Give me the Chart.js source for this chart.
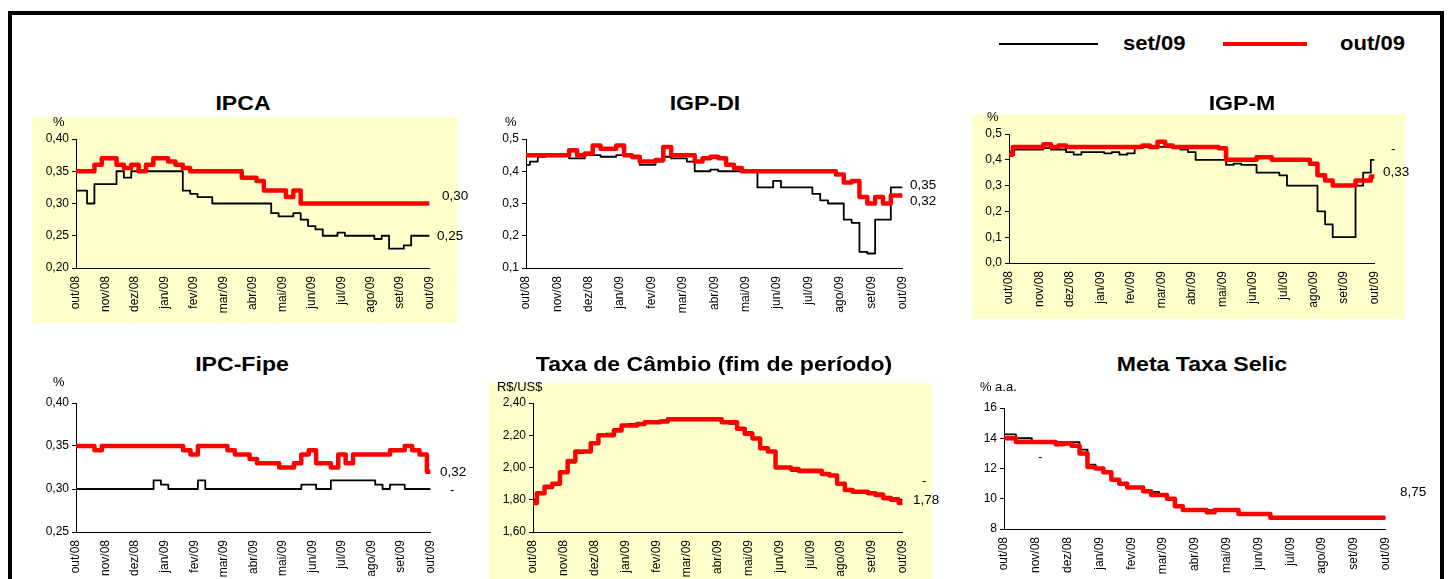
<!DOCTYPE html>
<html lang="pt-BR">
<head>
<meta charset="utf-8">
<title>Expectativas de mercado — set/09 x out/09</title>
<script src="https://cdn.jsdelivr.net/npm/chart.js@4.4.1/dist/chart.umd.min.js"></script>
<style>
  html, body { margin: 0; padding: 0; background: #fff; }
  body {
    width: 1448px; height: 579px; position: relative; overflow: hidden;
    font-family: "Liberation Sans", Arial, sans-serif; color: #000;
  }
  .frame {
    position: absolute; left: 8px; top: 11px; width: 1436px; height: 640px;
    border: 4px solid #000; box-sizing: border-box;
  }
  .bg { position: absolute; background: #ffffcc; }
  .title {
    position: absolute; font-weight: bold; font-size: 21px; line-height: 1;
    white-space: nowrap; transform: translate(-50%, -50%) scaleX(1.1);
  }
  .unit, .end {
    position: absolute; white-space: nowrap; line-height: 1;
    transform-origin: left center; transform: translateY(-50%) scaleX(1.08);
  }
  .unit { font-size: 12px; }
  .end { font-size: 12.5px; }
  .leg-line { position: absolute; }
  .leg-text {
    position: absolute; font-weight: bold; font-size: 21px; line-height: 1;
    transform-origin: left center; transform: translateY(-50%) scaleX(1.05);
  }
  canvas { position: absolute; }
</style>
</head>
<body>
<div class="frame"></div>

<!-- yellow panels behind IPCA, IGP-M and câmbio -->
<div class="bg" style="left:32px;top:117px;width:426px;height:206px"></div>
<div class="bg" style="left:972px;top:114px;width:433px;height:205px"></div>
<div class="bg" style="left:489px;top:383px;width:443px;height:200px"></div>

<!-- legend -->
<div class="leg-line" style="left:999px;top:43px;width:99px;height:2px;background:#000"></div>
<div class="leg-text" style="left:1123px;top:42px">set/09</div>
<div class="leg-line" style="left:1223px;top:42px;width:84px;height:4px;background:#ff0000"></div>
<div class="leg-text" style="left:1340px;top:42px">out/09</div>

<script>
/** Focus survey: expectations for Oct/09 as seen in Sep/09 vs Oct/09 */

const MONTHS = [
  "out/08", "nov/08", "dez/08", "jan/09", "fev/09", "mar/09", "abr/09",
  "mai/09", "jun/09", "jul/09", "ago/09", "set/09", "out/09",
];

// weekly readings, 4 per month, out/08 .. out/09
const ipcaSet = [
  0.32, 0.32, 0.30, 0.33, 0.33, 0.33, 0.35, 0.34, 0.35, 0.35,
  0.35, 0.35, 0.35, 0.35, 0.35, 0.32, 0.315, 0.31, 0.31, 0.30,
  0.30, 0.30, 0.30, 0.30, 0.30, 0.30, 0.30, 0.285, 0.28, 0.28,
  0.285, 0.275, 0.265, 0.26, 0.25, 0.25, 0.255, 0.25, 0.25, 0.25,
  0.25, 0.245, 0.25, 0.23, 0.23, 0.235, 0.25, 0.25, 0.25,
];
const ipcaOut = [
  0.35, 0.35, 0.35, 0.36, 0.37, 0.37, 0.36, 0.355, 0.36, 0.35,
  0.36, 0.37, 0.37, 0.365, 0.36, 0.355, 0.35, 0.35, 0.35, 0.35,
  0.35, 0.35, 0.35, 0.34, 0.34, 0.335, 0.32, 0.32, 0.32, 0.31,
  0.32, 0.30, 0.30, 0.30, 0.30, 0.30, 0.30, 0.30, 0.30, 0.30,
  0.30, 0.30, 0.30, 0.30, 0.30, 0.30, 0.30, 0.30, 0.30,
];

const igpdiSet = [
  0.42, 0.43, 0.445, 0.45, 0.45, 0.45, 0.44, 0.44, 0.45, 0.45,
  0.445, 0.445, 0.45, 0.45, 0.44, 0.42, 0.42, 0.43, 0.445, 0.44,
  0.44, 0.43, 0.40, 0.40, 0.405, 0.40, 0.40, 0.40, 0.40, 0.40,
  0.35, 0.35, 0.37, 0.35, 0.35, 0.35, 0.35, 0.33, 0.31, 0.30,
  0.30, 0.25, 0.24, 0.15, 0.145, 0.25, 0.25, 0.35, 0.35,
];
const igpdiOut = [
  0.45, 0.45, 0.45, 0.45, 0.45, 0.45, 0.465, 0.45, 0.455, 0.48,
  0.47, 0.47, 0.48, 0.45, 0.445, 0.43, 0.43, 0.435, 0.475, 0.45,
  0.45, 0.45, 0.43, 0.44, 0.445, 0.44, 0.42, 0.41, 0.40, 0.40,
  0.40, 0.40, 0.40, 0.40, 0.40, 0.40, 0.40, 0.40, 0.40, 0.40,
  0.39, 0.365, 0.37, 0.32, 0.30, 0.32, 0.30, 0.325, 0.325,
];

const igpmSet = [
  0.43, 0.44, 0.44, 0.44, 0.44, 0.445, 0.44, 0.44, 0.43, 0.42,
  0.43, 0.43, 0.43, 0.425, 0.43, 0.42, 0.425, 0.45, 0.45, 0.45,
  0.45, 0.45, 0.45, 0.44, 0.43, 0.40, 0.40, 0.40, 0.40, 0.38,
  0.385, 0.38, 0.38, 0.35, 0.35, 0.35, 0.34, 0.30, 0.30, 0.30,
  0.30, 0.20, 0.15, 0.10, 0.10, 0.10, 0.30, 0.35, 0.40,
];
const igpmOut = [
  0.42, 0.45, 0.45, 0.45, 0.45, 0.46, 0.45, 0.455, 0.45, 0.45,
  0.45, 0.45, 0.45, 0.45, 0.45, 0.45, 0.45, 0.45, 0.455, 0.45,
  0.47, 0.455, 0.45, 0.45, 0.45, 0.45, 0.45, 0.45, 0.445, 0.40,
  0.40, 0.40, 0.40, 0.41, 0.41, 0.40, 0.40, 0.40, 0.40, 0.40,
  0.385, 0.34, 0.32, 0.30, 0.30, 0.30, 0.32, 0.32, 0.335,
];

const fipeSet = [
  0.30, 0.30, 0.30, 0.30, 0.30, 0.30, 0.30, 0.30, 0.30, 0.30,
  0.30, 0.31, 0.305, 0.30, 0.30, 0.30, 0.30, 0.31, 0.30, 0.30,
  0.30, 0.30, 0.30, 0.30, 0.30, 0.30, 0.30, 0.30, 0.30, 0.30,
  0.30, 0.305, 0.305, 0.30, 0.30, 0.31, 0.31, 0.31, 0.31, 0.31,
  0.31, 0.305, 0.30, 0.305, 0.305, 0.30, 0.30, 0.30, 0.30,
];
const fipeOut = [
  0.35, 0.35, 0.35, 0.345, 0.35, 0.35, 0.35, 0.35, 0.35, 0.35,
  0.35, 0.35, 0.35, 0.35, 0.35, 0.345, 0.34, 0.35, 0.35, 0.35,
  0.35, 0.345, 0.34, 0.34, 0.335, 0.33, 0.33, 0.33, 0.325, 0.325,
  0.33, 0.34, 0.345, 0.33, 0.33, 0.325, 0.34, 0.33, 0.34, 0.34,
  0.34, 0.34, 0.34, 0.345, 0.345, 0.35, 0.345, 0.34, 0.32,
];

const cambioSet = [
  1.80, 1.84, 1.87, 1.90, 1.97, 2.03, 2.09, 2.10, 2.15, 2.20,
  2.21, 2.24, 2.26, 2.27, 2.27, 2.28, 2.28, 2.29, 2.30, 2.30,
  2.30, 2.30, 2.30, 2.30, 2.30, 2.28, 2.27, 2.24, 2.22, 2.18,
  2.12, 2.10, 2.00, 2.00, 1.98, 1.97, 1.97, 1.97, 1.96, 1.95,
  1.90, 1.86, 1.85, 1.85, 1.84, 1.84, 1.82, 1.81, 1.80,
];
const cambioOut = [
  1.78, 1.84, 1.88, 1.90, 1.97, 2.04, 2.10, 2.10, 2.15, 2.20,
  2.20, 2.23, 2.26, 2.26, 2.27, 2.28, 2.28, 2.285, 2.30, 2.30,
  2.30, 2.30, 2.30, 2.30, 2.30, 2.28, 2.28, 2.24, 2.21, 2.18,
  2.12, 2.10, 2.00, 2.00, 1.99, 1.98, 1.98, 1.98, 1.96, 1.95,
  1.90, 1.86, 1.85, 1.85, 1.84, 1.83, 1.81, 1.80, 1.78,
];

const selicSet = [
  14.25, 14.25, 14.0, 14.0, 13.75, 13.75, 13.75, 13.75, 13.75, 13.75,
  13.25, 12.25, 12.0, 11.75, 11.25, 11.0, 10.75, 10.75, 10.5, 10.45,
  10.25, 10.0, 9.5, 9.25, 9.25, 9.25, 9.25, 9.25, 9.25, 9.25,
  9.0, 9.0, 9.0, 9.0, 8.75, 8.75, 8.75, 8.75, 8.75, 8.75,
  8.75, 8.75, 8.75, 8.75, 8.75, 8.75, 8.75, 8.75, 8.75,
];
const selicOut = [
  14.0, 14.0, 13.75, 13.75, 13.75, 13.75, 13.75, 13.6, 13.65, 13.5,
  13.0, 12.1, 12.0, 11.75, 11.25, 11.0, 10.75, 10.75, 10.5, 10.25,
  10.25, 10.0, 9.5, 9.25, 9.25, 9.25, 9.1, 9.25, 9.25, 9.25,
  9.0, 9.0, 9.0, 9.0, 8.75, 8.75, 8.75, 8.75, 8.75, 8.75,
  8.75, 8.75, 8.75, 8.75, 8.75, 8.75, 8.75, 8.75, 8.75,
];

// plot box of each panel on the page: [left, top, right, bottom]
const PANELS = [
  {
    title: "IPCA", titleAt: [243, 102], unit: "%", unitAt: [53, 122],
    set: ipcaSet, out: ipcaOut, min: 0.2, max: 0.4, step: 0.05, dec: 2,
    area: [76, 139, 432, 268],
    ends: [["0,30", 442, 196], ["0,25", 437, 236]],
  },
  {
    title: "IGP-DI", titleAt: [705, 102], unit: "%", unitAt: [505, 122],
    set: igpdiSet, out: igpdiOut, min: 0.1, max: 0.5, step: 0.1, dec: 1,
    area: [526, 139, 905, 268],
    ends: [["0,35", 910, 185], ["0,32", 910, 201]],
  },
  {
    title: "IGP-M", titleAt: [1242, 102], unit: "%", unitAt: [987, 117],
    set: igpmSet, out: igpmOut, min: 0, max: 0.5, step: 0.1, dec: 1,
    area: [1009, 134, 1377, 263],
    ends: [["0,33", 1383, 172], ["-", 1391, 149]],
  },
  {
    title: "IPC-Fipe", titleAt: [242, 363], unit: "%", unitAt: [53, 382],
    set: fipeSet, out: fipeOut, min: 0.25, max: 0.4, step: 0.05, dec: 2,
    area: [76, 403, 433, 532],
    ends: [["0,32", 440, 472], ["-", 450, 490]],
  },
  {
    title: "Taxa de Câmbio (fim de período)", titleAt: [714, 363], unit: "R$/US$", unitAt: [497, 387],
    set: cambioSet, out: cambioOut, min: 1.6, max: 2.4, step: 0.2, dec: 2,
    area: [533, 403, 905, 532],
    ends: [["1,78", 913, 500], ["-", 922, 481]],
  },
  {
    title: "Meta Taxa Selic", titleAt: [1202, 363], unit: "% a.a.", unitAt: [980, 387],
    set: selicSet, out: selicOut, min: 8, max: 16, step: 2, dec: 0,
    area: [1004, 408, 1388, 529],
    ends: [["8,75", 1400, 492], ["-", 1038, 457]],
  },
];

const PAD_L = 60;
const PAD_T = 20;
const PAD_R = 20;
const PAD_B = 50;

function fmt(v, dec) {
  return Number(v).toFixed(dec).replace(".", ",");
}

function addText(cls, text, x, y) {
  const el = document.createElement("div");
  el.className = cls;
  el.textContent = text;
  el.style.left = `${x}px`;
  el.style.top = `${y}px`;
  document.body.appendChild(el);
}

// week index -> position in months along the date axis
function toPoints(vals) {
  return vals.map((v, i) => ({ x: i / 4, y: v }));
}

function renderPanel(p) {
  const [l, t, r, b] = p.area;
  const canvas = document.createElement("canvas");
  canvas.width = r - l + PAD_L + PAD_R;
  canvas.height = b - t + PAD_T + PAD_B;
  canvas.style.left = `${l - PAD_L}px`;
  canvas.style.top = `${t - PAD_T}px`;
  document.body.appendChild(canvas);

  addText("title", p.title, p.titleAt[0], p.titleAt[1]);
  addText("unit", p.unit, p.unitAt[0], p.unitAt[1]);
  p.ends.forEach(([txt, x, y]) => addText("end", txt, x, y));

  return new Chart(canvas, {
    type: "line",
    data: {
      datasets: [
        {
          label: "out/09",
          data: toPoints(p.out),
          borderColor: "#ff0000",
          borderWidth: 4.5,
          order: 0,
        },
        {
          label: "set/09",
          data: toPoints(p.set),
          borderColor: "#000000",
          borderWidth: 1.8,
          order: 1,
        },
      ],
    },
    options: {
      responsive: false,
      animation: false,
      devicePixelRatio: 1,
      layout: { padding: { left: 0, top: PAD_T, right: PAD_R, bottom: 0 } },
      elements: {
        point: { radius: 0, hoverRadius: 0 },
        line: { tension: 0, fill: false, stepped: "middle", borderJoinStyle: "round" },
      },
      plugins: { legend: { display: false }, tooltip: { enabled: false } },
      scales: {
        x: {
          type: "linear",
          min: 0,
          max: 12,
          afterFit: (s) => { s.height = PAD_B; },
          grid: { display: false, drawTicks: false },
          border: { display: true, color: "#000", width: 1 },
          ticks: {
            stepSize: 1,
            autoSkip: false,
            minRotation: 90,
            maxRotation: 90,
            padding: 8,
            color: "#000",
            callback: (v) => MONTHS[Math.round(v)] || "",
          },
        },
        y: {
          min: p.min,
          max: p.max,
          afterFit: (s) => { s.width = PAD_L; },
          grid: { drawOnChartArea: false, drawTicks: true, tickLength: 4, color: "#000" },
          border: { display: true, color: "#000", width: 1 },
          ticks: {
            stepSize: p.step,
            padding: 3,
            color: "#000",
            callback: (v) => fmt(v, p.dec),
          },
        },
      },
    },
  });
}

Chart.defaults.font.family = "'Liberation Sans', Arial, sans-serif";
Chart.defaults.font.size = 12;
Chart.defaults.color = "#000";

// canvas text needs the face loaded before the charts draw
document.fonts
  .load("12px 'Liberation Sans'")
  .catch(() => null)
  .then(() => PANELS.forEach(renderPanel));
</script>
</body>
</html>
